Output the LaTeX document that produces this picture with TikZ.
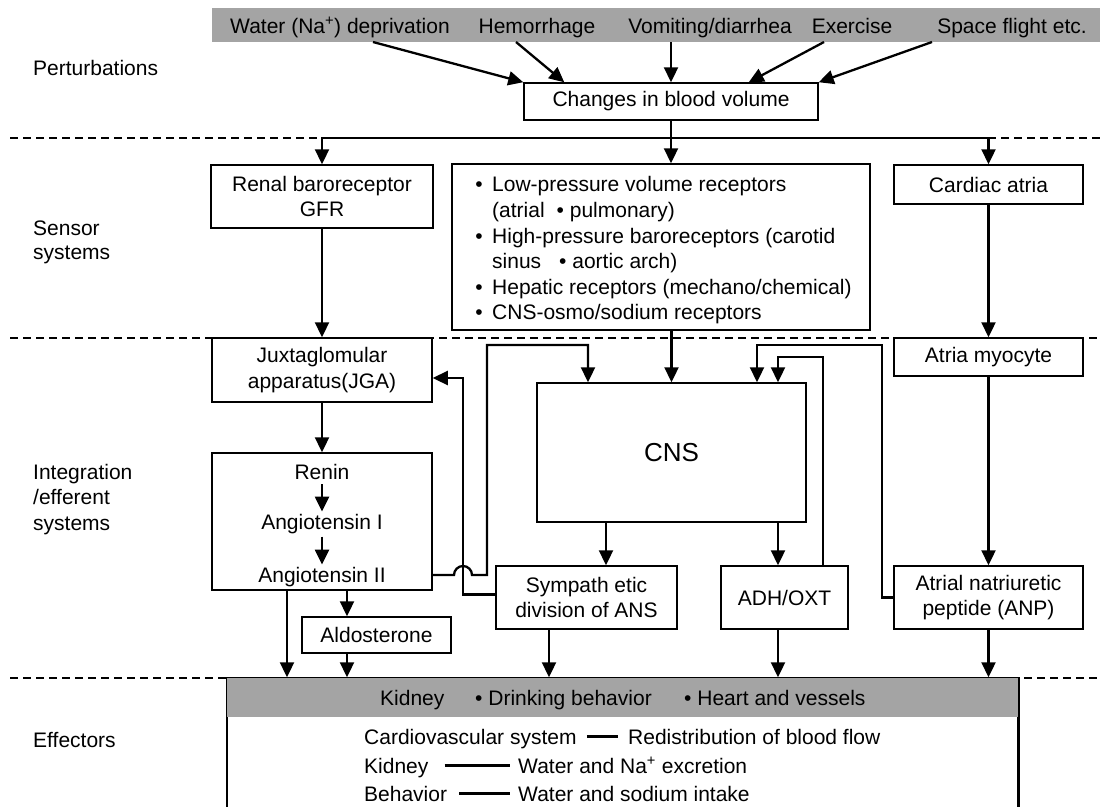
\documentclass[tikz,border=0pt]{standalone}
\usepackage{fontspec}
\setmainfont{Liberation Sans}
\usetikzlibrary{arrows.meta,calc}
\definecolor{bargray}{RGB}{164,164,164}
\newcommand\dfont{\fontsize{21}{25.5}\selectfont}
\begin{document}
\begin{tikzpicture}[x=1pt,y=-1pt,
  box/.style={draw, line width=1.5pt, fill=white, inner sep=0pt, align=center, font=\dfont},
  txt/.style={inner sep=0pt, font=\dfont},
  conn/.style={line width=2.3pt, line cap=rect},
  arr/.style={line width=2.3pt, -{Triangle[length=15pt,width=14pt]}},
  dsh/.style={line width=1.5pt, dash pattern=on 8pt off 5pt},
]
\useasboundingbox (0,0) rectangle (1102,806);
% separators
\draw[dsh] (10,138) -- (322,138);
\draw[dsh] (988,138) -- (1100,138);
\draw[dsh] (10,338) -- (1100,338);
\draw[dsh] (10,678) -- (1100,678);

% row labels
\node[txt, anchor=base west] (lP) at (33,75) {Perturbations};
\node[txt, anchor=base west] (lS1) at (33,235) {Sensor};
\node[txt, anchor=base west] (lS2) at (33,259) {systems};
\node[txt, anchor=base west] (lI1) at (33,479) {Integration};
\node[txt, anchor=base west] (lI2) at (33,504) {/efferent};
\node[txt, anchor=base west] (lI3) at (33,530) {systems};
\node[txt, anchor=base west] (lE) at (33,747) {Effectors};

% top bar
\node[fill=bargray, minimum width=888pt, minimum height=34pt, inner sep=0pt] (bar) at (656,25) {};
\node[txt, anchor=base] (water) at (340,33) {Water (Na\textsuperscript{+}) deprivation};
\node[txt, anchor=base] (hem) at (537,33) {Hemorrhage};
\node[txt, anchor=base] (vom) at (710,33) {Vomiting/diarrhea};
\node[txt, anchor=base] (exe) at (852,33) {Exercise};
\node[txt, anchor=base] (spa) at (1012,33) {Space flight etc.};

% boxes
\node[box, minimum width=294pt, minimum height=37pt] (changes) at (671,101.5) {Changes in blood volume};
\node[box, minimum width=222pt, minimum height=63pt] (renal) at (322,196.5) {Renal baroreceptor\\GFR};
\node[box, minimum width=418pt, minimum height=166pt] (mid) at (661,247) {};
\node[box, minimum width=189pt, minimum height=39pt] (cardiac) at (988.5,184.5) {Cardiac atria};
\node[box, minimum width=220pt, minimum height=64pt] (jga) at (322,370) {Juxtaglomular\\apparatus(JGA)};
\node[box, minimum width=189pt, minimum height=38pt] (myo) at (988.5,357) {Atria myocyte};
\node[box, minimum width=269pt, minimum height=139pt, font=\fontsize{26}{30}\selectfont] (cns) at (671.5,452.5) {CNS};
\node[box, minimum width=220pt, minimum height=137pt] (renin) at (322,521.5) {};
\node[box, minimum width=181pt, minimum height=63pt] (symp) at (586.5,597.5) {Sympath etic\\division of ANS};
\node[box, minimum width=127pt, minimum height=63pt] (adh) at (784.5,597.5) {ADH/OXT};
\node[box, minimum width=189pt, minimum height=63pt] (anp) at (988.5,597.5) {Atrial natriuretic\\peptide (ANP)};
\node[box, minimum width=149pt, minimum height=36pt] (aldo) at (376.5,635) {Aldosterone};
\node[box, minimum width=791pt, minimum height=134pt] (eff) at (622.5,745) {};
\fill[bargray] (eff.north west) rectangle ($(eff.north east)+(0,40)$);
\draw[line width=1.5pt] (eff.south west) rectangle (eff.north east);

% middle box list
\node[txt, anchor=base] (b1) at (479,191) {•};
\node[txt, anchor=base west] (t1) at (492,191) {Low-pressure volume receptors};
\node[txt, anchor=base west] (t2) at (492,217) {(atrial\hspace{12pt}• pulmonary)};
\node[txt, anchor=base] (b3) at (479,243) {•};
\node[txt, anchor=base west] (t3) at (492,243) {High-pressure baroreceptors (carotid};
\node[txt, anchor=base west] (t4) at (492,268) {sinus\hspace{18pt}• aortic arch)};
\node[txt, anchor=base] (b5) at (479,294) {•};
\node[txt, anchor=base west] (t5) at (492,294) {Hepatic receptors (mechano/chemical)};
\node[txt, anchor=base] (b6) at (479,319) {•};
\node[txt, anchor=base west] (t6) at (492,319) {CNS-osmo/sodium receptors};

% renin box content
\node[txt, anchor=base] (ren1) at (322,479) {Renin};
\node[txt, anchor=base] (ang1) at (322,529) {Angiotensin I};
\node[txt, anchor=base] (ang2) at (322,582) {Angiotensin II};
\draw[arr, shorten <=5pt, shorten >=2pt] (ren1) -- (ang1);
\draw[arr, shorten <=3pt, shorten >=2pt] (ang1) -- (ang2);

% effector content
\node[txt, anchor=base west] (eK) at (380,705) {Kidney};
\node[txt, anchor=base west] (eD) at (475,705) {• Drinking behavior};
\node[txt, anchor=base west] (eH) at (684,705) {• Heart and vessels};
\node[txt, anchor=base west] (c1) at (364,744) {Cardiovascular system};
\node[txt, anchor=base west] (c2) at (628,744) {Redistribution of blood flow};
\node[txt, anchor=base west] (k1) at (364,773) {Kidney};
\node[txt, anchor=base west] (k2) at (518,773) {Water and Na\textsuperscript{+} excretion};
\node[txt, anchor=base west] (h1) at (364,801) {Behavior};
\node[txt, anchor=base west] (h2) at (518,801) {Water and sodium intake};
\draw[line width=2.2pt] ([xshift=10pt,yshift=7.5pt]c1.base east) -- ([xshift=-10pt,yshift=7.5pt]c2.base west);
\draw[line width=2.2pt] ([xshift=16pt,yshift=7.5pt]k1.base east) -- ([xshift=-8pt,yshift=7.5pt]k2.base west);
\draw[line width=2.2pt] ([xshift=12pt,yshift=7.5pt]h1.base east) -- ([xshift=-8pt,yshift=7.5pt]h2.base west);

% perturbation arrows
\coordinate (wS) at (373,42);
\coordinate (hS) at (516,42);
\coordinate (vS) at (671,42);
\coordinate (eS) at (824,42);
\coordinate (sS) at (932,42);
\draw[arr] (wS) -- (changes.north west);
\draw[arr] (hS) -- ([xshift=41pt]changes.north west);
\draw[arr] (vS) -- (changes.north);
\draw[arr] (eS) -- ([xshift=-70pt]changes.north east);
\draw[arr] (sS) -- (changes.north east);

% distribution
\coordinate (dL) at (322,138);
\coordinate (dR) at (988.5,138);
\draw[conn] (changes.south) -- (changes.south |- dL);
\draw[conn] (dL) -- (dR);
\draw[arr] (dL) -- (renal.north);
\draw[arr] (changes.south |- dL) -- (changes.south |- mid.north);
\draw[arr] (dR) -- (cardiac.north);

% sensor -> integration
\draw[arr] (renal.south) -- (jga.north);
\draw[arr] (mid.south -| cns.north) -- (cns.north);
\draw[arr] (cardiac.south) -- (myo.north);
\draw[arr] (jga.south) -- (renin.north);
\draw[arr] (myo.south) -- (anp.north);

% angiotensin II -> CNS with hop
\coordinate (hopL) at (454,575);
\coordinate (up1) at (487,575);
\coordinate (c1t) at (487,345);
\coordinate (c2t) at (588,345);
\draw[arr, line join=miter] (renin.east |- hopL) -- (hopL) arc[start angle=180, end angle=0, radius=9pt] -- (up1) -- (c1t) -- (c2t) -- (c2t |- cns.north);

% sympathetic -> JGA
\coordinate (vx) at (463,0);
\coordinate (jgaIn) at ([yshift=-8pt]jga.east);
\coordinate (syW) at ([yshift=3pt]symp.west);
\draw[arr, line join=miter] (syW) -- (syW -| vx) -- (vx |- jgaIn) -- (jgaIn);

% CNS -> sympathetic, ADH
\coordinate (sx) at ([xshift=19.5pt]symp.north);
\coordinate (ax) at ([xshift=-6.5pt]adh.north);
\draw[arr] (sx |- cns.south) -- (sx);
\draw[arr] (ax |- cns.south) -- (ax);

% ADH loop
\coordinate (adhT) at ([xshift=38.5pt]adh.north);
\coordinate (lpA) at (778,357);
\draw[arr, line join=miter] (adhT) -- (adhT |- lpA) -- (lpA) -- (lpA |- cns.north);

% ANP loop
\coordinate (vB) at (882,345);
\coordinate (lpB) at (757,345);
\draw[arr, line join=miter] (anp.west) -- (anp.west -| vB) -- (vB) -- (lpB) -- (lpB |- cns.north);

% renin outputs
\coordinate (r1) at ([xshift=-35pt]renin.south);
\coordinate (r2) at ([xshift=25pt]renin.south);
\coordinate (r3) at (r2 |- aldo.south);
\draw[arr] (r1) -- (r1 |- eff.north);
\draw[arr] (r2) -- (r2 |- aldo.north);
\draw[arr] (r3) -- (r3 |- eff.north);

% to effectors
\coordinate (sy) at ([xshift=-37.5pt]symp.south);
\coordinate (ay) at ([xshift=-6.5pt]adh.south);
\draw[arr] (sy) -- (sy |- eff.north);
\draw[arr] (ay) -- (ay |- eff.north);
\draw[arr] (anp.south) -- (anp.south |- eff.north);
\end{tikzpicture}
\end{document}
